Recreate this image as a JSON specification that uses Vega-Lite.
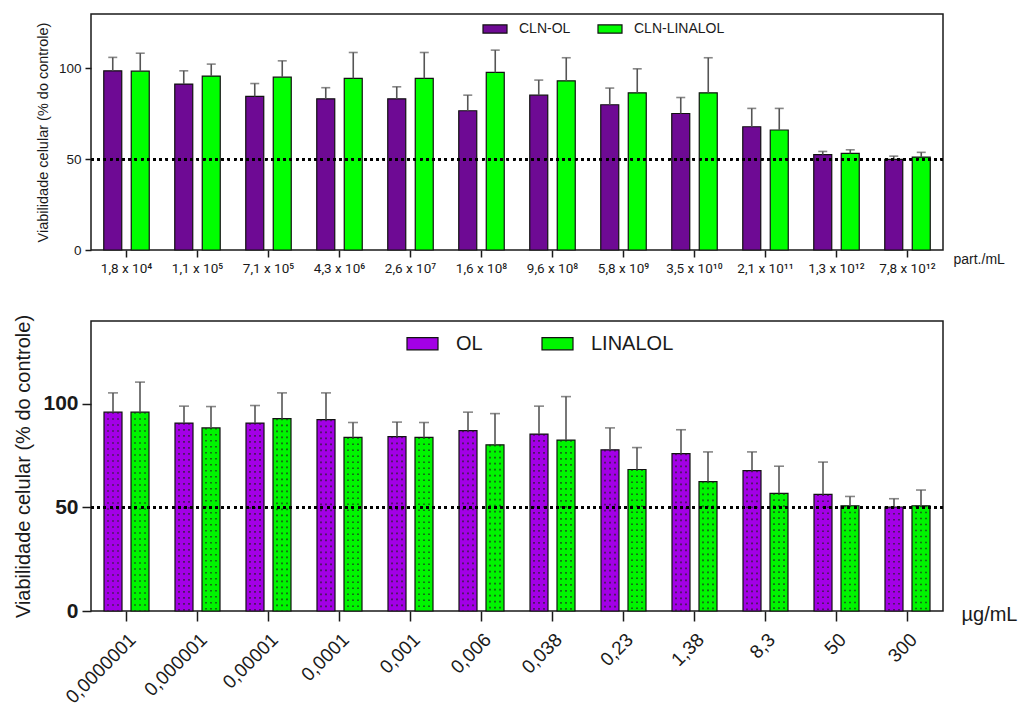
{
  "$schema": "https://vega.github.io/schema/vega-lite/v6.json",
  "padding": {"left": 13, "top": 13, "right": 0, "bottom": 0},
  "background": "white",
  "config": {
    "font": "Liberation Sans",
    "view": {"stroke": "#1a1a1a", "strokeWidth": 1.5},
    "axis": {"grid": false, "domain": false, "tickColor": "#1a1a1a", "tickWidth": 1.5, "labelColor": "#1a1a1a", "titleColor": "#1a1a1a", "titleFontWeight": "normal"},
    "legend": {"labelColor": "#1a1a1a"}
  },
  "datasets": {
    "top": [
      {"c": "1,8 x 10⁴", "s": "CLN-OL", "v": 98.7, "u": 106.1},
      {"c": "1,1 x 10⁵", "s": "CLN-OL", "v": 91.4, "u": 98.7},
      {"c": "7,1 x 10⁵", "s": "CLN-OL", "v": 84.6, "u": 91.7},
      {"c": "4,3 x 10⁶", "s": "CLN-OL", "v": 83.3, "u": 89.4},
      {"c": "2,6 x 10⁷", "s": "CLN-OL", "v": 83.3, "u": 89.9},
      {"c": "1,6 x 10⁸", "s": "CLN-OL", "v": 76.7, "u": 85.3},
      {"c": "9,6 x 10⁸", "s": "CLN-OL", "v": 85.3, "u": 93.6},
      {"c": "5,8 x 10⁹", "s": "CLN-OL", "v": 80.0, "u": 89.2},
      {"c": "3,5 x 10¹⁰", "s": "CLN-OL", "v": 75.2, "u": 84.0},
      {"c": "2,1 x 10¹¹", "s": "CLN-OL", "v": 67.9, "u": 78.0},
      {"c": "1,3 x 10¹²", "s": "CLN-OL", "v": 52.5, "u": 54.3},
      {"c": "7,8 x 10¹²", "s": "CLN-OL", "v": 49.9, "u": 51.7},
      {"c": "1,8 x 10⁴", "s": "CLN-LINALOL", "v": 98.5, "u": 108.4},
      {"c": "1,1 x 10⁵", "s": "CLN-LINALOL", "v": 95.8, "u": 102.4},
      {"c": "7,1 x 10⁵", "s": "CLN-LINALOL", "v": 95.2, "u": 104.2},
      {"c": "4,3 x 10⁶", "s": "CLN-LINALOL", "v": 94.5, "u": 108.8},
      {"c": "2,6 x 10⁷", "s": "CLN-LINALOL", "v": 94.5, "u": 108.8},
      {"c": "1,6 x 10⁸", "s": "CLN-LINALOL", "v": 97.8, "u": 110.1},
      {"c": "9,6 x 10⁸", "s": "CLN-LINALOL", "v": 93.2, "u": 105.9},
      {"c": "5,8 x 10⁹", "s": "CLN-LINALOL", "v": 86.6, "u": 99.8},
      {"c": "3,5 x 10¹⁰", "s": "CLN-LINALOL", "v": 86.6, "u": 105.9},
      {"c": "2,1 x 10¹¹", "s": "CLN-LINALOL", "v": 66.1, "u": 78.0},
      {"c": "1,3 x 10¹²", "s": "CLN-LINALOL", "v": 53.2, "u": 55.2},
      {"c": "7,8 x 10¹²", "s": "CLN-LINALOL", "v": 51.2, "u": 53.8}
    ],
    "bot": [
      {"c": "0,0000001", "s": "OL", "v": 96.0, "u": 105.3},
      {"c": "0,000001", "s": "OL", "v": 90.7, "u": 98.9},
      {"c": "0,00001", "s": "OL", "v": 90.7, "u": 99.2},
      {"c": "0,0001", "s": "OL", "v": 92.4, "u": 105.3},
      {"c": "0,001", "s": "OL", "v": 84.2, "u": 91.2},
      {"c": "0,006", "s": "OL", "v": 87.1, "u": 96.0},
      {"c": "0,038", "s": "OL", "v": 85.4, "u": 98.9},
      {"c": "0,23", "s": "OL", "v": 77.8, "u": 88.4},
      {"c": "1,38", "s": "OL", "v": 76.0, "u": 87.5},
      {"c": "8,3", "s": "OL", "v": 67.8, "u": 76.8},
      {"c": "50", "s": "OL", "v": 56.3, "u": 71.9},
      {"c": "300", "s": "OL", "v": 50.2, "u": 54.2},
      {"c": "0,0000001", "s": "LINALOL", "v": 96.0, "u": 110.5},
      {"c": "0,000001", "s": "LINALOL", "v": 88.4, "u": 98.7},
      {"c": "0,00001", "s": "LINALOL", "v": 92.9, "u": 105.3},
      {"c": "0,0001", "s": "LINALOL", "v": 83.8, "u": 91.0},
      {"c": "0,001", "s": "LINALOL", "v": 83.8, "u": 91.0},
      {"c": "0,006", "s": "LINALOL", "v": 80.2, "u": 95.3},
      {"c": "0,038", "s": "LINALOL", "v": 82.5, "u": 103.5},
      {"c": "0,23", "s": "LINALOL", "v": 68.3, "u": 78.9},
      {"c": "1,38", "s": "LINALOL", "v": 62.5, "u": 76.8},
      {"c": "8,3", "s": "LINALOL", "v": 56.8, "u": 69.9},
      {"c": "50", "s": "LINALOL", "v": 50.8, "u": 55.3},
      {"c": "300", "s": "LINALOL", "v": 50.8, "u": 58.4}
    ]
  },
  "bounds": "flush",
  "spacing": 71,
  "resolve": {"scale": {"color": "independent"}, "legend": {"color": "independent"}},
  "vconcat": [
    {
      "width": 852,
      "height": 236,
      "data": {"name": "top"},
      "encoding": {
        "x": {"field": "c", "type": "nominal", "sort": null, "scale": {"paddingInner": 0, "paddingOuter": 0},
          "axis": {"labelAngle": 0, "labelFont": "Roboto", "labelFontSize": 13.5, "labelPadding": 4, "tickSize": 7, "title": "part./mL", "titleFontSize": 14, "titleX": 862, "titleY": 9, "titleAlign": "left", "titleBaseline": "middle", "titleAngle": 0}},
        "y": {"field": "v", "type": "quantitative", "scale": {"domain": [0, 130], "nice": false},
          "axis": {"values": [0, 50, 100], "labelFontSize": 13.5, "tickSize": 6, "labelPadding": 4, "title": "Viabilidade celular (% do controle)", "titleFontSize": 14.5, "titlePadding": 8}}
      },
      "layer": [
        {"transform": [{"filter": "datum.s === 'CLN-OL'"}],
          "mark": {"type": "bar", "width": 18, "xOffset": -13.75, "stroke": "#111", "strokeWidth": 1.2},
          "encoding": {"color": {"field": "s", "type": "nominal", "scale": {"domain": ["CLN-OL", "CLN-LINALOL"], "range": ["#6E0A94", "#00FF00"]},
            "legend": {"title": null, "orient": "none", "legendX": 391, "legendY": 2, "direction": "horizontal", "symbolType": "M-1,-0.34L1,-0.34L1,0.34L-1,0.34Z", "symbolSize": 576, "symbolStrokeColor": "#111", "symbolStrokeWidth": 1.2, "symbolOpacity": 1, "labelFontSize": 14, "labelOffset": 11, "columnPadding": 24}}}},
        {"transform": [{"filter": "datum.s === 'CLN-LINALOL'"}],
          "mark": {"type": "bar", "width": 18, "xOffset": 13.75, "stroke": "#111", "strokeWidth": 1.2},
          "encoding": {"color": {"field": "s", "type": "nominal"}}},
        {"transform": [{"filter": "datum.s === 'CLN-OL'"}],
          "mark": {"type": "rule", "xOffset": -13.75, "color": "#555", "strokeWidth": 1.6},
          "encoding": {"y2": {"field": "u"}}},
        {"transform": [{"filter": "datum.s === 'CLN-LINALOL'"}],
          "mark": {"type": "rule", "xOffset": 13.75, "color": "#555", "strokeWidth": 1.6},
          "encoding": {"y2": {"field": "u"}}},
        {"transform": [{"filter": "datum.s === 'CLN-OL'"}],
          "mark": {"type": "tick", "orient": "horizontal", "size": 9, "thickness": 1.6, "xOffset": -13.75, "color": "#555"},
          "encoding": {"y": {"field": "u", "type": "quantitative"}}},
        {"transform": [{"filter": "datum.s === 'CLN-LINALOL'"}],
          "mark": {"type": "tick", "orient": "horizontal", "size": 9, "thickness": 1.6, "xOffset": 13.75, "color": "#555"},
          "encoding": {"y": {"field": "u", "type": "quantitative"}}},
        {"mark": {"type": "rule", "color": "#000", "strokeWidth": 2.2, "strokeDash": [2.2, 4]},
          "encoding": {"x": null, "y": {"datum": 50}}}
      ]
    },
    {
      "width": 852,
      "height": 290,
      "data": {"name": "bot"},
      "encoding": {
        "x": {"field": "c", "type": "nominal", "sort": null, "scale": {"paddingInner": 0, "paddingOuter": 0},
          "axis": {"labelAngle": -45, "labelFontSize": 19, "labelPadding": 9, "tickSize": 10, "title": "µg/mL", "titleFontSize": 20, "titleX": 870, "titleY": 3, "titleAlign": "left", "titleBaseline": "middle", "titleAngle": 0}},
        "y": {"field": "v", "type": "quantitative", "scale": {"domain": [0, 140], "nice": false},
          "axis": {"values": [0, 50, 100], "labelFontSize": 21, "labelFontWeight": "bold", "tickSize": 9, "labelPadding": 4, "title": "Viabilidade celular (% do controle)", "titleFontSize": 20, "titlePadding": 9}}
      },
      "layer": [
        {"transform": [{"filter": "datum.s === 'OL'"}],
          "mark": {"type": "bar", "width": 18, "xOffset": -13.5, "stroke": "#111", "strokeWidth": 1.2},
          "encoding": {"color": {"field": "s", "type": "nominal", "scale": {"domain": ["OL", "LINALOL"], "range": ["#A300E6", "#00F500"]},
            "legend": {"title": null, "orient": "none", "legendX": 315, "legendY": 6, "direction": "horizontal", "symbolType": "M-1,-0.39L1,-0.39L1,0.39L-1,0.39Z", "symbolSize": 961, "symbolStrokeColor": "#111", "symbolStrokeWidth": 1.2, "symbolOpacity": 1, "labelFontSize": 20, "labelOffset": 17, "columnPadding": 56}}}},
        {"transform": [{"filter": "datum.s === 'LINALOL'"}],
          "mark": {"type": "bar", "width": 18, "xOffset": 13.5, "stroke": "#111", "strokeWidth": 1.2},
          "encoding": {"color": {"field": "s", "type": "nominal"}}},
        {"transform": [{"filter": "datum.s === 'OL'"}],
          "mark": {"type": "rule", "xOffset": -18.5, "color": "#222", "opacity": 0.8, "strokeWidth": 1.6, "strokeDash": [1.6, 4.4]},
          "encoding": {"y2": {"datum": 0}}},
        {"transform": [{"filter": "datum.s === 'OL'"}],
          "mark": {"type": "rule", "xOffset": -13.5, "color": "#222", "opacity": 0.8, "strokeWidth": 1.6, "strokeDash": [1.6, 4.4]},
          "encoding": {"y2": {"datum": 0}}},
        {"transform": [{"filter": "datum.s === 'OL'"}],
          "mark": {"type": "rule", "xOffset": -8.5, "color": "#222", "opacity": 0.8, "strokeWidth": 1.6, "strokeDash": [1.6, 4.4]},
          "encoding": {"y2": {"datum": 0}}},
        {"transform": [{"filter": "datum.s === 'LINALOL'"}],
          "mark": {"type": "rule", "xOffset": 8.5, "color": "#222", "opacity": 0.8, "strokeWidth": 1.6, "strokeDash": [1.6, 4.4]},
          "encoding": {"y2": {"datum": 0}}},
        {"transform": [{"filter": "datum.s === 'LINALOL'"}],
          "mark": {"type": "rule", "xOffset": 13.5, "color": "#222", "opacity": 0.8, "strokeWidth": 1.6, "strokeDash": [1.6, 4.4]},
          "encoding": {"y2": {"datum": 0}}},
        {"transform": [{"filter": "datum.s === 'LINALOL'"}],
          "mark": {"type": "rule", "xOffset": 18.5, "color": "#222", "opacity": 0.8, "strokeWidth": 1.6, "strokeDash": [1.6, 4.4]},
          "encoding": {"y2": {"datum": 0}}},
        {"transform": [{"filter": "datum.s === 'OL'"}],
          "mark": {"type": "rule", "xOffset": -13.5, "color": "#555", "strokeWidth": 1.6},
          "encoding": {"y2": {"field": "u"}}},
        {"transform": [{"filter": "datum.s === 'LINALOL'"}],
          "mark": {"type": "rule", "xOffset": 13.5, "color": "#555", "strokeWidth": 1.6},
          "encoding": {"y2": {"field": "u"}}},
        {"transform": [{"filter": "datum.s === 'OL'"}],
          "mark": {"type": "tick", "orient": "horizontal", "size": 10, "thickness": 1.6, "xOffset": -13.5, "color": "#555"},
          "encoding": {"y": {"field": "u", "type": "quantitative"}}},
        {"transform": [{"filter": "datum.s === 'LINALOL'"}],
          "mark": {"type": "tick", "orient": "horizontal", "size": 10, "thickness": 1.6, "xOffset": 13.5, "color": "#555"},
          "encoding": {"y": {"field": "u", "type": "quantitative"}}},
        {"mark": {"type": "rule", "color": "#000", "strokeWidth": 2.2, "strokeDash": [2.2, 4]},
          "encoding": {"x": null, "y": {"datum": 50}}}
      ]
    }
  ]
}
